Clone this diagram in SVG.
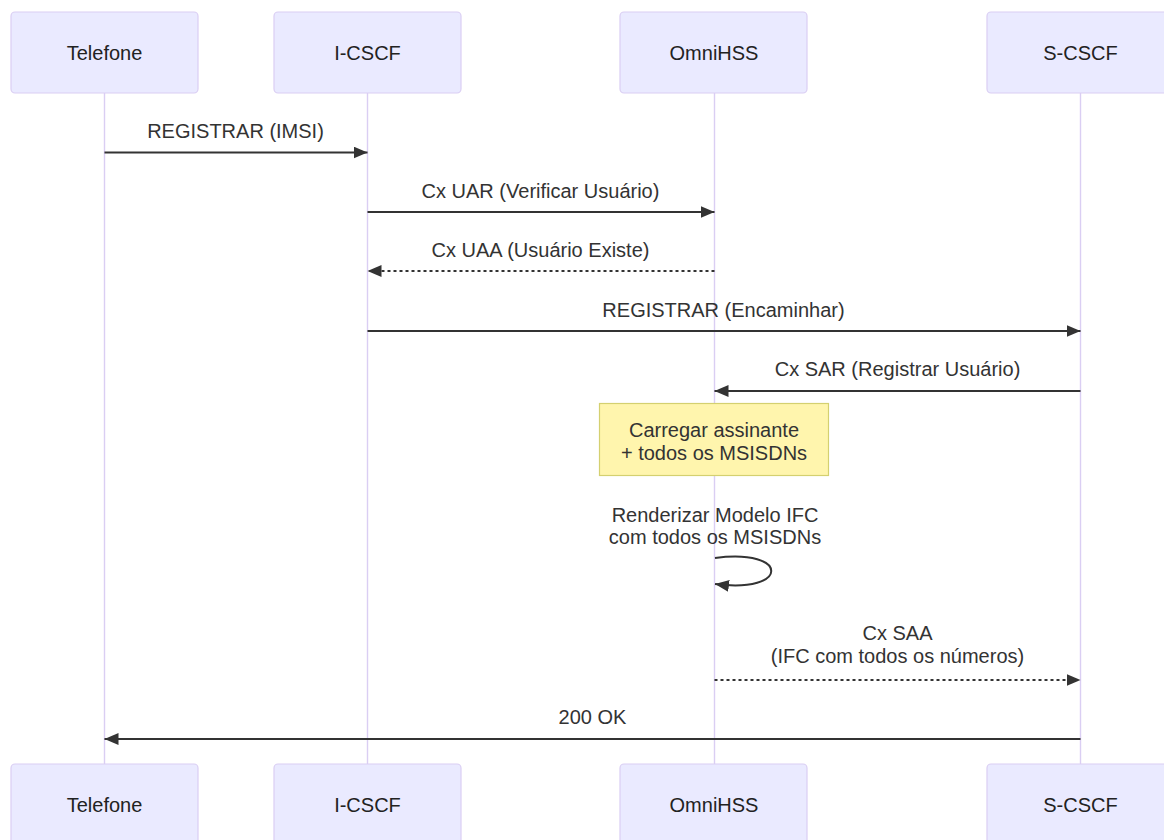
<svg xmlns="http://www.w3.org/2000/svg" width="1164" height="840" viewBox="0 0 1164 840">
<style>
.actor{fill:#eaeaff;stroke:#dacef3;stroke-width:1.2}
.atext{font-family:"Liberation Sans",Arial,sans-serif;font-size:20px;fill:#222;text-anchor:middle}
.life{stroke:#dacef3;stroke-width:1.4}
.msg{stroke:#333;stroke-width:2;fill:none}
.dot{stroke-dasharray:3,3}
.mtext{font-family:"Liberation Sans",Arial,sans-serif;font-size:20px;fill:#333;text-anchor:middle}
.note{fill:#fff5ad;stroke:#d4d070;stroke-width:1.2}
</style>
<defs>
<marker id="ah" markerUnits="userSpaceOnUse" markerWidth="16" markerHeight="14" refX="14" refY="6" orient="auto">
<path d="M0,0 L14,6 L0,12 z" fill="#333"/>
</marker>
</defs>
<g id="lifelines">
<line class="life" x1="104.5" y1="93" x2="104.5" y2="764"/>
<line class="life" x1="367.5" y1="93" x2="367.5" y2="764"/>
<line class="life" x1="714.5" y1="93" x2="714.5" y2="764"/>
<line class="life" x1="1080.5" y1="93" x2="1080.5" y2="764"/>
</g>
<g id="telefone-top"><rect class="actor" x="11" y="12" width="187" height="81" rx="4"/><text class="atext" x="104.5" y="59.5">Telefone</text></g>
<g id="icscf-top"><rect class="actor" x="274" y="12" width="187" height="81" rx="4"/><text class="atext" x="367.5" y="59.5">I-CSCF</text></g>
<g id="omnihss-top"><rect class="actor" x="620" y="12" width="187" height="81" rx="4"/><text class="atext" x="714" y="59.5">OmniHSS</text></g>
<g id="scscf-top"><rect class="actor" x="987" y="12" width="187" height="81" rx="4"/><text class="atext" x="1080.5" y="59.5">S-CSCF</text></g>
<g id="telefone-bottom"><rect class="actor" x="11" y="764" width="187" height="81" rx="4"/><text class="atext" x="104.5" y="812">Telefone</text></g>
<g id="icscf-bottom"><rect class="actor" x="274" y="764" width="187" height="81" rx="4"/><text class="atext" x="367.5" y="812">I-CSCF</text></g>
<g id="omnihss-bottom"><rect class="actor" x="620" y="764" width="187" height="81" rx="4"/><text class="atext" x="714" y="812">OmniHSS</text></g>
<g id="scscf-bottom"><rect class="actor" x="987" y="764" width="187" height="81" rx="4"/><text class="atext" x="1080.5" y="812">S-CSCF</text></g>
<g id="note-carregar">
<rect class="note" x="599.5" y="403.5" width="229" height="72"/>
<text class="mtext" x="714" y="437">Carregar assinante</text>
<text class="mtext" x="714" y="460">+ todos os MSISDNs</text>
</g>
<g id="connectors">
<text class="mtext" x="235.5" y="138">REGISTRAR (IMSI)</text>
<line class="msg" x1="104.5" y1="152.5" x2="367.5" y2="152.5" marker-end="url(#ah)"/>
<text class="mtext" x="540.5" y="197.5">Cx UAR (Verificar Usuário)</text>
<line class="msg" x1="367.5" y1="212" x2="714.5" y2="212" marker-end="url(#ah)"/>
<text class="mtext" x="540.5" y="256.5">Cx UAA (Usuário Existe)</text>
<line class="msg dot" x1="714.5" y1="271" x2="367.5" y2="271" marker-end="url(#ah)"/>
<text class="mtext" x="723.5" y="316.5">REGISTRAR (Encaminhar)</text>
<line class="msg" x1="367.5" y1="331" x2="1080.5" y2="331" marker-end="url(#ah)"/>
<text class="mtext" x="897.5" y="376">Cx SAR (Registrar Usuário)</text>
<line class="msg" x1="1080.5" y1="391" x2="714.5" y2="391" marker-end="url(#ah)"/>
<text class="mtext" x="715" y="521.5">Renderizar Modelo IFC</text>
<text class="mtext" x="715" y="544">com todos os MSISDNs</text>
<path class="msg" d="M715,558 C790,548 790,594 715,584" marker-end="url(#ah)"/>
<text class="mtext" x="897.5" y="640">Cx SAA</text>
<text class="mtext" x="897.5" y="663">(IFC com todos os números)</text>
<line class="msg dot" x1="714.5" y1="680" x2="1080.5" y2="680" marker-end="url(#ah)"/>
<text class="mtext" x="592.5" y="724">200 OK</text>
<line class="msg" x1="1080.5" y1="739" x2="104.5" y2="739" marker-end="url(#ah)"/>
</g>
</svg>
